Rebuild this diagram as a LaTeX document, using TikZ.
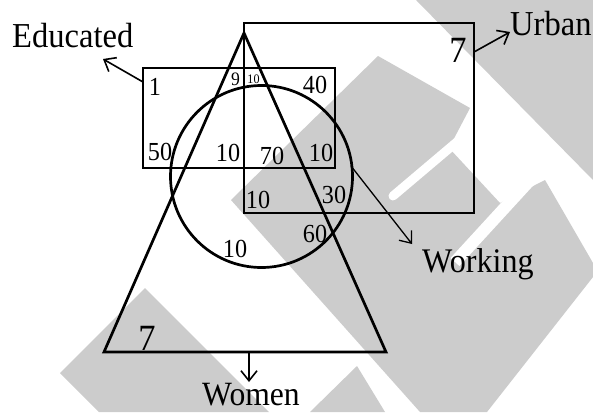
\documentclass[tikz,border=0pt]{standalone}
\usepackage{fontspec}
\setmainfont[FakeStretch=0.93]{Liberation Serif}
\usetikzlibrary{arrows.meta}
\definecolor{wm}{RGB}{204,204,204}
\begin{document}
\begin{tikzpicture}[x=1pt,y=-1pt,
  shapeline/.style={line width=2.7pt, line join=miter},
  arr/.style={line width=1.6pt,-{Straight Barb[length=10pt,width=16pt]}},
  num/.style={inner sep=0pt, font=\fontsize{26}{26}\selectfont},
  bignum/.style={inner sep=0pt, font=\fontsize{37}{37}\selectfont},
  lab/.style={inner sep=0pt, anchor=base west, font=\fontsize{35}{35}\selectfont}]
\path[use as bounding box] (0,0) rectangle (593,412);
\fill[white] (0,0) rectangle (593,412);
% watermark
\fill[wm] (416,0) -- (593,0) -- (593,180) -- cycle;
\fill[wm] (231,200) -- (378,56) -- (470,108) -- (449,148) -- (500,203) -- (545,180) -- (593,263) -- (593,277) -- (487,412) -- (420,412) -- cycle;
\draw[white, line width=9pt, line cap=round] (393,196) -- (458,141);
\draw[white, line width=12pt] (532,178) -- (455,262);
\fill[wm] (60,373) -- (145,288) -- (269,412) -- (99,412) -- cycle;
\fill[wm] (357,366) -- (310,412) -- (385,412) -- cycle;
% shapes
\draw[shapeline] (143,68) rectangle (335,168);
\draw[shapeline] (244,23) rectangle (474,213);
\draw[shapeline] (244,33) -- (386,352) -- (104,352) -- cycle;
\draw[shapeline] (261.5,176.5) circle[radius=91pt];
% labels
\node[lab] (educated) at (12,48) {Educated};
\node[lab] (urban) at (510,35) {Urban};
\node[lab, font=\fontsize{34.5}{34.5}\selectfont] (working) at (422,272) {Working};
\node[lab, font=\fontsize{34}{34}\selectfont] (women) at (202,405) {Women};
% arrows
\coordinate (eduS) at (143,82);  \coordinate (eduT) at (103,59);
\coordinate (urbS) at (474,52);  \coordinate (urbT) at (510,32);
\coordinate (wrkS) at (351,166); \coordinate (wrkT) at (412,244);
\coordinate (womS) at (249,352); \coordinate (womT) at (249,382);
\draw[arr] (eduS) -- (eduT);
\draw[arr] (urbS) -- (urbT);
\draw[arr, line width=1.3pt] (wrkS) -- (wrkT);
\draw[arr] (womS) -- (womT);
% numbers
\node[num] (n1) at (155,87) {1};
\node[num, font=\fontsize{19}{19}\selectfont] (n9) at (235.5,79.5) {9};
\node[num, font=\fontsize{13}{13}\selectfont] (n10s) at (253.5,79) {10};
\node[num] (n40) at (315,85) {40};
\node[num] (n50) at (160,152) {50};
\node[num] (n10a) at (228,153) {10};
\node[num] (n70) at (272,156) {70};
\node[num] (n10b) at (321,153) {10};
\node[num] (n10c) at (258,200) {10};
\node[num] (n30) at (334,195) {30};
\node[num] (n60) at (315,234) {60};
\node[num] (n10d) at (235,249) {10};
\node[bignum] (n7a) at (147,338) {7};
\node[bignum] (n7b) at (458,50) {7};
\end{tikzpicture}
\end{document}
